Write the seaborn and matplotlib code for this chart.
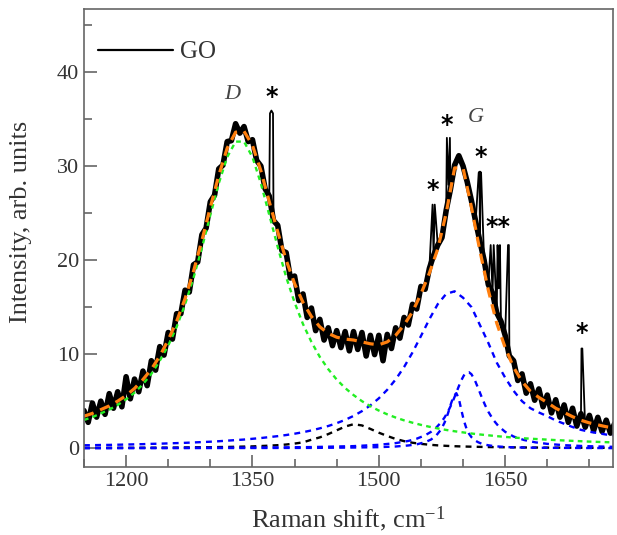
import numpy as np
import pandas as pd
import matplotlib
matplotlib.use("Agg")
import matplotlib.pyplot as plt
from matplotlib.ticker import MultipleLocator
import seaborn as sns

# --- measured spectrum (GO), sampled every 5 cm^-1 ---
shift = np.arange(1150, 1781, 5)
intensity = [
    4.0, 2.75, 4.8, 3.3, 5.0, 3.6, 5.8, 4.25, 6.0, 4.4,
    7.6, 5.25, 7.35, 6.0, 8.2, 6.65, 9.3, 8.3, 10.8, 9.9,
    12.3, 11.6, 14.3, 14.3, 16.8, 16.6, 19.5, 19.8, 22.7, 23.4,
    26.2, 26.9, 29.7, 30.1, 32.6, 32.7, 34.5, 33.5, 34.2, 32.6,
    32.8, 30.6, 30.0, 27.6, 26.8, 24.2, 23.7, 21.0, 20.8, 18.1,
    18.3, 15.7, 16.4, 13.9, 14.9, 12.5, 13.7, 11.5, 12.8, 10.9,
    12.5, 10.7, 12.4, 10.35, 12.4, 10.5, 12.3, 9.8, 12.0, 9.95,
    12.0, 9.3, 12.1, 10.6, 12.8, 11.7, 13.9, 13.1, 15.3, 14.8,
    17.2, 16.9, 19.1, 20.5, 21.6, 22.4, 25.3, 27.5, 30.1, 31.1,
    30.0, 28.3, 26.3, 24.1, 22.0, 20.0, 17.4, 16.5, 14.4, 13.5,
    12.0, 9.8, 9.3, 7.2, 7.9, 5.85, 6.85, 5.1, 6.3, 4.4,
    5.65, 3.75, 5.15, 3.3, 4.6, 2.75, 4.25, 2.35, 3.67, 2.23,
    3.49, 1.88, 3.28, 1.78, 2.98, 1.6, 2.63,
]
# cosmic-ray spikes (marked with *)
spike_x = [1370.8, 1372.5, 1374.4, 1563.8, 1566.4, 1580.8, 1582.8, 1584.4,
           1618.6, 1619.6, 1620.4, 1621.4, 1632.8, 1636.4, 1641.0, 1642.4,
           1643.8, 1653.4, 1654.4, 1740.6, 1741.6]
spike_y = [35.6, 35.9, 35.6, 25.9, 25.9, 33.0, 28.0, 33.0,
           29.3, 29.4, 29.4, 29.3, 21.6, 21.6, 21.6, 17.0,
           21.6, 21.6, 21.6, 10.6, 10.6]

# --- fitted components, every 10 cm^-1 ---
fit_x = np.arange(1150, 1781, 10)
d_band = [
    3.0, 3.3, 3.7, 4.1, 4.6, 5.2, 5.9, 6.8, 7.9, 9.3,
    10.9, 12.9, 15.3, 18.1, 21.3, 24.8, 28.15, 30.95, 32.6, 32.6,
    30.95, 28.15, 24.8, 21.4, 18.2, 15.5, 13.2, 11.3, 9.7, 8.4,
    7.3, 6.4, 5.65, 5.0, 4.46, 4.0, 3.6, 3.26, 2.96, 2.71,
    2.48, 2.28, 2.10, 1.94, 1.80, 1.68, 1.56, 1.46, 1.37, 1.28,
    1.20, 1.13, 1.07, 1.01, 0.96, 0.91, 0.86, 0.82, 0.78, 0.74,
    0.70, 0.67, 0.64, 0.61,
]
g_band = [
    0.31, 0.32, 0.34, 0.35, 0.37, 0.39, 0.41, 0.43, 0.46, 0.48,
    0.51, 0.54, 0.57, 0.61, 0.65, 0.69, 0.74, 0.80, 0.86, 0.92,
    1.0, 1.08, 1.18, 1.28, 1.40, 1.54, 1.70, 1.89, 2.11, 2.36,
    2.66, 3.01, 3.43, 3.94, 4.55, 5.30, 6.21, 7.31, 8.63, 10.18,
    11.92, 13.71, 15.32, 16.41, 16.68, 16.0, 15.0, 13.1, 11.2, 9.1,
    7.5, 6.1, 5.0, 4.25, 3.8, 3.4, 2.95, 2.6, 2.25, 1.95,
    1.75, 1.6, 1.45, 1.35,
]
band_1470 = [
    0.03, 0.03, 0.03, 0.03, 0.04, 0.04, 0.04, 0.05, 0.05, 0.06,
    0.06, 0.07, 0.08, 0.09, 0.10, 0.10, 0.12, 0.13, 0.15, 0.17,
    0.19, 0.23, 0.27, 0.32, 0.39, 0.49, 0.62, 0.90, 1.15, 1.50,
    1.90, 2.30, 2.55, 2.42, 2.05, 1.65, 1.30, 0.98, 0.75, 0.58,
    0.46, 0.37, 0.30, 0.25, 0.21, 0.18, 0.16, 0.14, 0.12, 0.11,
    0.10, 0.09, 0.08, 0.07, 0.07, 0.06, 0.06, 0.05, 0.05, 0.05,
    0.04, 0.04, 0.04, 0.03,
]
fit_sum = [
    3.4, 3.7, 4.1, 4.5, 5.0, 5.6, 6.35, 7.3, 8.4, 9.8,
    11.5, 13.5, 15.9, 18.8, 22.1, 25.6, 29.0, 31.9, 33.6, 33.7,
    32.2, 29.5, 26.2, 23.0, 20.0, 17.5, 15.5, 14.0, 12.9, 12.2,
    11.8, 11.6, 11.5, 11.3, 11.1, 11.0, 11.3, 12.0, 13.1, 14.5,
    16.4, 18.6, 21.2, 25.0, 29.8, 29.8, 25.6, 21.0, 16.8, 13.3,
    10.7, 8.6, 7.1, 6.05, 5.4, 4.85, 4.25, 3.8, 3.35, 2.97,
    2.69, 2.48, 2.28, 2.13,
]

# narrow components near G
narrow_x = [1150, 1250, 1350, 1420, 1470, 1500, 1520, 1535, 1545, 1555,
            1562, 1568, 1574, 1578, 1582, 1586, 1589, 1592, 1595, 1598,
            1601, 1604, 1607, 1610, 1614, 1618, 1622, 1626, 1630, 1636,
            1642, 1650, 1660, 1672, 1686, 1700, 1720, 1745, 1780]
band_1606 = [0.02, 0.03, 0.06, 0.12, 0.22, 0.36, 0.54, 0.77, 1.01, 1.37,
             1.74, 2.17, 2.76, 3.26, 3.88, 4.61, 5.24, 5.91, 6.59, 7.23,
             7.74, 8.04, 8.08, 7.86, 7.23, 6.37, 5.46, 4.61, 3.88, 3.0,
             2.35, 1.74, 1.24, 0.88, 0.62, 0.46, 0.32, 0.22, 0.14]
band_1592 = [0.01, 0.01, 0.02, 0.03, 0.07, 0.11, 0.18, 0.29, 0.41, 0.64,
             0.92, 1.33, 2.0, 2.71, 3.67, 4.82, 5.56, 5.85, 5.27, 4.05,
             2.93, 2.1, 1.55, 1.17, 0.84, 0.63, 0.48, 0.38, 0.31, 0.23,
             0.18, 0.13, 0.09, 0.07, 0.05, 0.04, 0.03, 0.02, 0.01]

# annotations
star_x = [1373.3, 1564.5, 1581.0, 1621.5, 1641.7, 1741.4]
star_y = [37.3, 27.5, 34.4, 31.0, 23.5, 12.3]
star_txt = ["*", "*", "*", "*", "**", "*"]

sns.set_theme(style="ticks")
plt.rcParams.update({
    "font.family": ["Liberation Serif", "DejaVu Serif"],
    "mathtext.fontset": "custom",
    "mathtext.rm": "Liberation Serif",
    "mathtext.it": "Liberation Serif:italic",
    "axes.edgecolor": "#666666",
    "axes.linewidth": 1.2,
    "xtick.color": "#666666",
    "ytick.color": "#666666",
    "xtick.labelcolor": "#333333",
    "ytick.labelcolor": "#333333",
})

base = pd.DataFrame({"shift": shift, "I": intensity})
spec = pd.concat([base, pd.DataFrame({"shift": spike_x, "I": spike_y})]).sort_values("shift")

fig = plt.figure(figsize=(6.17, 5.35), dpi=100)
ax = fig.add_axes([0.1361, 0.1271, 0.8574, 0.8561])

# thick noisy band + thin trace carrying the spikes
sns.lineplot(data=base, x="shift", y="I", color="black", lw=4.0,
             estimator=None, label="GO", ax=ax)
sns.lineplot(data=spec, x="shift", y="I", color="black", lw=1.3,
             estimator=None, legend=False, ax=ax)
sns.lineplot(x=fit_x, y=band_1470, color="black", lw=1.7, ax=ax,
             linestyle=(0, (2.5, 2.2)), legend=False)
sns.lineplot(x=narrow_x, y=band_1592, color="#0000ff", lw=1.7, ax=ax,
             linestyle=(0, (2.5, 2.2)), legend=False)
sns.lineplot(x=narrow_x, y=band_1606, color="#0000ff", lw=1.7, ax=ax,
             linestyle=(0, (2.5, 2.2)), legend=False)
sns.lineplot(x=fit_x, y=g_band, color="#0000ff", lw=1.7, ax=ax,
             linestyle=(0, (2.5, 2.2)), legend=False)
sns.lineplot(x=fit_x, y=d_band, color="#22ee22", lw=1.7, ax=ax,
             linestyle=(0, (2.0, 1.8)), legend=False)
sns.lineplot(x=fit_x, y=fit_sum, color="#ff7f0e", lw=2.3, ax=ax,
             linestyle=(0, (3.2, 2.2)), legend=False)

for sx, sy, st in zip(star_x, star_y, star_txt):
    ax.text(sx, sy, st, ha="center", va="center", fontsize=17,
            fontweight="bold", family="DejaVu Sans", color="black")
ax.text(1325.8, 37.6, "D", ha="center", va="center", fontsize=16,
        style="italic", color="#444444")
ax.text(1615.6, 35.2, "G", ha="center", va="center", fontsize=16,
        style="italic", color="#444444")

ax.set_xlim(1150, 1778)
ax.set_ylim(-2, 46.7)
ax.xaxis.set_major_locator(MultipleLocator(150))
ax.xaxis.set_minor_locator(MultipleLocator(50))
ax.yaxis.set_major_locator(MultipleLocator(10))
ax.yaxis.set_minor_locator(MultipleLocator(5))
ax.tick_params(which="both", direction="in", top=False, right=False,
               labelsize=16, width=1.2)
ax.tick_params(which="major", length=9)
ax.tick_params(which="minor", length=5.5)

ax.set_xlabel(r"Raman shift, cm$^{-1}$", fontsize=19, color="#333333", labelpad=10)
ax.set_ylabel("Intensity, arb. units", fontsize=19, color="#333333", labelpad=18)
ax.yaxis.label.set_y(0.535)

handle = ax.get_lines()[0]
leg = ax.legend(handles=[handle], labels=["GO"], loc="upper left",
                bbox_to_anchor=(0.0076, 0.952), frameon=False, fontsize=18,
                handlelength=3.0, handletextpad=0.3, borderaxespad=0.0)
leg.get_lines()[0].set_linewidth(1.6)
for t in leg.get_texts():
    t.set_color("#333333")

fig.savefig("out.png", dpi=100)
